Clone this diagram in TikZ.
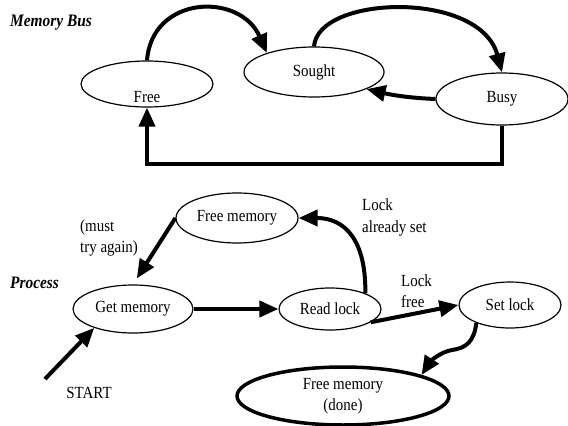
\documentclass[tikz,border=0pt]{standalone}
\usepackage{fontspec}
\setmainfont{Liberation Serif}[FakeStretch=0.88]
\usetikzlibrary{shapes.geometric,arrows.meta}
\begin{document}
\begin{tikzpicture}[x=1pt,y=-1pt,
  txt/.style={inner sep=0pt, font=\fontsize{17}{21.5}\selectfont},
  st/.style={ellipse, draw, line width=1.2pt, inner sep=0pt, font=\fontsize{17}{21.5}\selectfont},
  arr/.style={line width=4pt, -{Triangle[length=19pt,width=16pt]}},
  ttl/.style={inner sep=0pt, anchor=west, font=\fontsize{17.5}{18}\selectfont\bfseries\itshape}]
\useasboundingbox (0,0) rectangle (568,426);
% titles
\node[ttl] (membus) at (10,23) {Memory Bus};
\node[ttl] (process) at (10,283) {Process};
% memory bus states
\node[st, minimum width=132pt, minimum height=46pt] (free) at (147,84) {};
\node[txt] (freet) at (147,97) {Free};
\node[st, minimum width=140pt, minimum height=50pt] (sought) at (314,72) {Sought};
\node[st, minimum width=132pt, minimum height=52pt] (busy) at (502,99) {Busy};
% process states
\node[st, minimum width=122pt, minimum height=50pt] (fm) at (237,218) {Free memory};
\node[st, minimum width=120pt, minimum height=48pt] (gm) at (133,309) {Get memory};
\node[st, minimum width=102pt, minimum height=42pt] (rl) at (330,309) {Read lock};
\node[st, minimum width=102pt, minimum height=46pt] (sl) at (510,305) {Set lock};
\node[st, line width=3.5pt, minimum width=212pt, minimum height=58pt, align=center] (dn) at (343,396) {Free memory\\(done)};
% labels
\node[txt, anchor=west, align=left] (must) at (80,238) {(must\\try again)};
\node[txt, anchor=west, align=left] (las) at (362,217.5) {Lock\\already set};
\node[txt, anchor=west, align=left] (lf) at (401,291) {Lock\\free};
\node[txt] (startl) at (89,393) {START};
\coordinate (start) at (45,379);
% memory bus connectors
\draw[arr] (free.north) .. controls (152,-5) and (240,-8) .. (sought.158);
\draw[arr] (sought.north) .. controls (318,-5) and (480,-10) .. (busy.north);
\draw[arr] (busy.west) .. controls (410,98) and (392,95) .. (sought.-18);
\draw[arr] (busy.south) -- ++(0,38) -| (free.south);
% process connectors
\draw[arr, shorten >=7pt] (fm.west) -- (gm.north);
\draw[arr] (gm.east) -- (rl.west);
\draw[arr] (rl.24) .. controls (366,240) and (345,218) .. (fm.east);
\draw[arr] (rl.-18) -- (sl.west);
\draw[arr] (sl.208) .. controls (474,342) and (466,348) .. (452,350) .. controls (440,352) and (430,362) .. (dn.15);
\draw[arr] (start) -- (gm.206);
\end{tikzpicture}
\end{document}
